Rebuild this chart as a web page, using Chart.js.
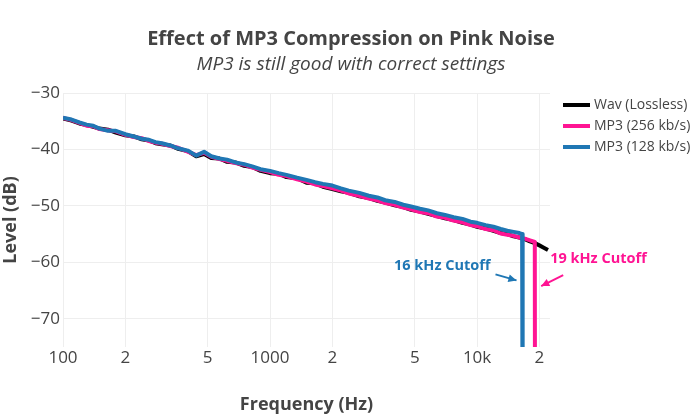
<!DOCTYPE html>
<html><head><meta charset="utf-8">
<script src="https://cdn.jsdelivr.net/npm/chart.js@4/dist/chart.umd.min.js"></script>
<style>body{margin:0;background:#fff}canvas{display:block}</style>
</head><body>
<canvas id="c" width="700" height="420"></canvas>
<script>
const baseFreq=[100,110,120,130,140,150,165,180,200,220,240,260,280,300,330,360,400,440,480,520,570,620,680,750,820,900,1000,1100,1200,1350,1500,1650,1800,2000,2200,2400,2700,3000,3300,3600,4000,4400,4800,5300,5800,6400,7000,7700,8500,9300,10000,11000,12000,13000,14000,15000,16000,16500];
const wavDb=[-34.5,-34.9,-35.4,-35.7,-36.0,-36.3,-36.5,-37.0,-37.5,-37.7,-38.2,-38.4,-38.9,-39.1,-39.3,-39.9,-40.3,-41.2,-40.8,-41.5,-41.6,-42.2,-42.3,-42.9,-43.1,-43.8,-44.2,-44.3,-44.9,-45.1,-45.9,-46.0,-46.6,-47.0,-47.4,-47.7,-48.3,-48.6,-49.1,-49.4,-49.9,-50.2,-50.7,-51.0,-51.4,-51.8,-52.2,-52.5,-53.0,-53.3,-53.7,-54.0,-54.4,-54.8,-55.0,-55.4,-55.6,-55.8];
const wavTailFreq=[17000,18000,19000,20000,21000,22000];
const wavTailDb=[-55.9,-56.3,-56.6,-57.0,-57.4,-57.8];
const mp3HiDb=[-34.4,-34.8,-35.3,-35.8,-35.9,-36.4,-36.6,-36.8,-37.4,-37.8,-38.0,-38.5,-38.8,-39.0,-39.4,-39.7,-40.4,-41.0,-40.6,-41.3,-41.7,-42.0,-42.4,-42.7,-43.2,-43.6,-44.0,-44.5,-44.7,-45.3,-45.7,-46.2,-46.5,-46.9,-47.3,-47.8,-48.2,-48.7,-49.0,-49.5,-49.8,-50.3,-50.6,-51.1,-51.3,-51.9,-52.1,-52.6,-52.9,-53.4,-53.6,-54.1,-54.3,-54.9,-55.1,-55.3,-55.6,-55.7];
const mp3HiTailFreq=[17000,18000,19000,19050];
const mp3HiTailDb=[-55.8,-56.1,-56.4,-95];
const mp3LoDb=[-34.4,-34.7,-35.2,-35.6,-35.8,-36.3,-36.7,-36.7,-37.3,-37.7,-38.1,-38.3,-38.7,-38.9,-39.3,-39.8,-40.2,-41.1,-40.4,-41.2,-41.6,-41.8,-42.3,-42.6,-43.0,-43.5,-43.8,-44.2,-44.5,-45.0,-45.4,-45.8,-46.1,-46.4,-46.9,-47.3,-47.7,-48.2,-48.5,-49.0,-49.3,-49.8,-50.1,-50.5,-50.8,-51.3,-51.6,-52.0,-52.3,-52.8,-53.0,-53.4,-53.7,-54.1,-54.4,-54.6,-54.8,-55.0];
const mp3LoTailFreq=[16600];
const mp3LoTailDb=[-95];
const xTicks=[100,200,500,1000,2000,5000,10000,20000];
const xTickLabels=['100','2','5','1000','2','5','10k','2'];
const yTicks=[-70,-60,-50,-40,-30];
const seriesNames=['Wav (Lossless)','MP3 (256 kb/s)','MP3 (128 kb/s)'];
const colors=['#000000','#ff1493','#1f77b4'];

const pts=(f,d)=>f.map((x,i)=>({x,y:d[i]}));
const FONT='"Open Sans", sans-serif';
const TXT='#444';

const decor={id:'decor',afterDraw(ch){
  const c=ch.ctx, xs=ch.scales.x, ys=ch.scales.y;
  c.save();
  c.fillStyle=TXT;c.textAlign='center';c.textBaseline='middle';
  c.font='bold 20px '+FONT;c.fillText('Effect of MP3 Compression on Pink Noise',351,39);
  c.font='italic 19px '+FONT;c.fillText('MP3 is still good with correct settings',351,65);
  seriesNames.forEach((n,i)=>{
    const y=105+i*21;
    c.strokeStyle=colors[i];c.lineWidth=4;c.beginPath();c.moveTo(563,y);c.lineTo(590,y);c.stroke();
    c.fillStyle=TXT;c.font='14px '+FONT;c.textAlign='left';c.fillText(n,594,y);
  });
  function arrow(fx,fy,dx,dy,col){
    const tx=xs.getPixelForValue(fx), ty=ys.getPixelForValue(fy);
    const sx=tx+dx, sy=ty+dy;
    c.strokeStyle=col;c.fillStyle=col;c.lineWidth=2;
    c.beginPath();c.moveTo(sx,sy);c.lineTo(tx,ty);c.stroke();
    const a=Math.atan2(ty-sy,tx-sx);
    c.beginPath();c.moveTo(tx,ty);
    c.lineTo(tx-9*Math.cos(a-0.45),ty-9*Math.sin(a-0.45));
    c.lineTo(tx-9*Math.cos(a+0.45),ty-9*Math.sin(a+0.45));
    c.closePath();c.fill();
    return [sx,sy];
  }
  c.font='bold 14.5px '+FONT;
  let p=arrow(15500,-63.2,-21,-6,colors[2]);
  c.fillStyle=colors[2];c.textAlign='right';c.fillText('16 kHz Cutoff',p[0]-5,p[1]-9);
  p=arrow(20400,-64.2,22,-11,colors[1]);
  c.fillStyle=colors[1];c.textAlign='left';c.fillText('19 kHz Cutoff',p[0]-13,p[1]-16);
  c.restore();
}};

new Chart(document.getElementById('c'),{
  type:'line',
  data:{datasets:[
    {label:seriesNames[0],order:3,data:pts(baseFreq.concat(wavTailFreq),wavDb.concat(wavTailDb)),borderColor:colors[0]},
    {label:seriesNames[1],order:2,data:pts(baseFreq.concat(mp3HiTailFreq),mp3HiDb.concat(mp3HiTailDb)),borderColor:colors[1]},
    {label:seriesNames[2],order:1,data:pts(baseFreq.concat(mp3LoTailFreq),mp3LoDb.concat(mp3LoTailDb)),borderColor:colors[2]}
  ]},
  options:{
    responsive:false,animation:false,devicePixelRatio:1,
    layout:{padding:{top:93,right:150,left:0,bottom:0}},
    elements:{line:{borderWidth:4,tension:0,borderJoinStyle:'round'},point:{radius:0}},
    plugins:{legend:{display:false},tooltip:{enabled:false}},
    scales:{
      x:{type:'logarithmic',min:100,max:22500,
        afterBuildTicks:s=>{s.ticks=xTicks.map(v=>({value:v}));},
        afterFit:s=>{s.height=73;},
        ticks:{autoSkip:false,maxRotation:0,color:TXT,font:{family:FONT,size:17},padding:1,
          callback:(v)=>{const i=xTicks.indexOf(v);return i>=0?xTickLabels[i]:'';}},
        grid:{color:'#eeeeee',drawTicks:false},border:{display:false},
        title:{display:true,text:'Frequency (Hz)',color:TXT,font:{family:FONT,size:18,weight:'bold'},padding:{top:0,bottom:4}}
      },
      y:{min:-75,max:-30,
        afterBuildTicks:s=>{s.ticks=yTicks.map(v=>({value:v}));},
        afterFit:s=>{s.width=63;},
        ticks:{color:TXT,font:{family:FONT,size:17},padding:3,callback:v=>'\u2212'+Math.abs(v)},
        grid:{color:'#eeeeee',drawTicks:false},border:{display:false},
        title:{display:true,text:'Level (dB)',color:TXT,font:{family:FONT,size:18,weight:'bold'},padding:{top:0,bottom:0}}
      }
    }
  },
  plugins:[decor]
});
</script>
</body></html>
